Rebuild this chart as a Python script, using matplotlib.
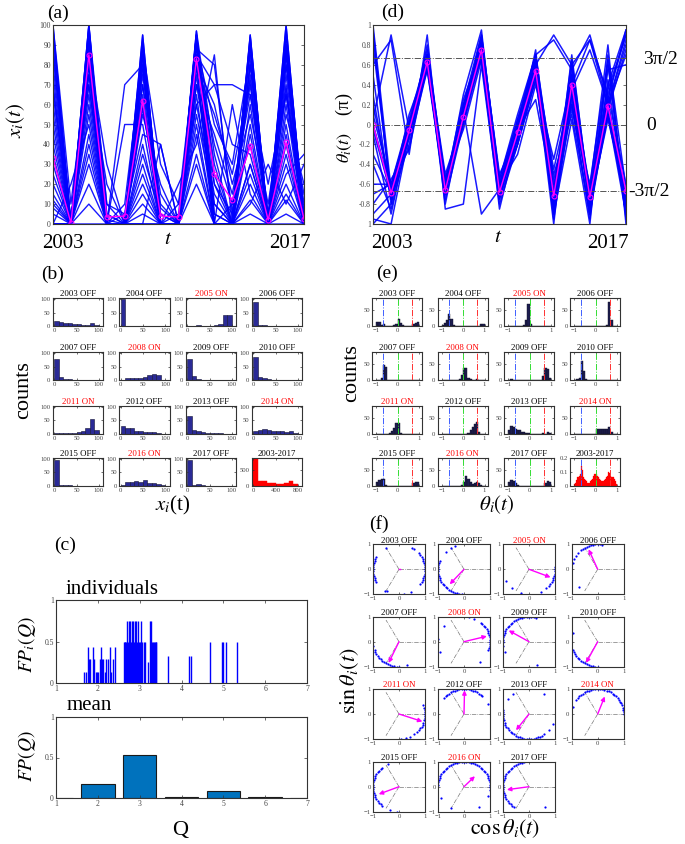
import numpy as np
import matplotlib
matplotlib.use('Agg')
import matplotlib.pyplot as plt

plt.rcParams['font.family'] = ['Liberation Serif', 'DejaVu Serif']
plt.rcParams['mathtext.fontset'] = 'stix'

# ---------------- data ----------------
years = [2003, 2004, 2005, 2006, 2007, 2008, 2009, 2010, 2011, 2012, 2013, 2014, 2015, 2016, 2017]
phase = ['OFF', 'OFF', 'ON', 'OFF', 'OFF', 'ON', 'OFF', 'OFF', 'ON', 'OFF', 'OFF', 'ON', 'OFF', 'ON', 'OFF']

# (a) individual trajectories x_i(t) and mean
x_mean = [33, 0.5, 85, 3.5, 4, 62, 4, 3.5, 83, 25, 12, 39, 2, 41, 2.5]
x_indiv = [
    [100, 0, 100, 0, 0, 95, 0, 0, 97, 10, 0, 95, 0, 100, 0],
    [90, 0, 95, 5, 0, 90, 5, 0, 95, 20, 5, 90, 0, 95, 5],
    [85, 0, 90, 0, 10, 85, 0, 0, 90, 30, 0, 80, 5, 90, 0],
    [80, 0, 95, 10, 0, 80, 0, 10, 90, 0, 0, 75, 0, 85, 0],
    [70, 0, 90, 0, 0, 75, 10, 0, 85, 40, 10, 70, 0, 80, 10],
    [60, 0, 85, 0, 5, 70, 0, 0, 80, 0, 0, 60, 0, 75, 0],
    [50, 0, 80, 0, 0, 65, 0, 5, 80, 60, 20, 55, 10, 70, 0],
    [40, 0, 75, 20, 0, 60, 0, 0, 75, 0, 0, 50, 0, 60, 0],
    [30, 0, 70, 0, 0, 55, 20, 0, 70, 20, 0, 45, 0, 55, 20],
    [20, 0, 65, 0, 50, 50, 0, 0, 65, 0, 10, 40, 0, 50, 0],
    [10, 0, 60, 0, 0, 40, 0, 0, 60, 70, 40, 35, 0, 45, 0],
    [0, 0, 55, 0, 0, 30, 0, 0, 55, 10, 0, 30, 0, 40, 0],
    [0, 20, 50, 0, 0, 20, 0, 0, 50, 0, 0, 25, 0, 35, 0],
    [5, 0, 40, 0, 0, 10, 0, 20, 40, 85, 0, 20, 0, 30, 0],
    [0, 0, 30, 0, 0, 0, 40, 0, 30, 0, 60, 15, 0, 20, 0],
    [0, 0, 20, 0, 0, 0, 0, 0, 20, 0, 0, 10, 30, 10, 30],
    [0, 0, 10, 0, 0, 90, 0, 0, 95, 5, 0, 95, 0, 100, 0],
    [95, 0, 100, 0, 0, 95, 0, 0, 95, 0, 0, 90, 0, 95, 0],
    [15, 0, 0, 0, 0, 0, 0, 0, 0, 0, 0, 0, 0, 0, 0],
    [100, 10, 85, 30, 0, 85, 0, 0, 90, 50, 30, 85, 0, 90, 5],
    [0, 0, 75, 0, 70, 80, 0, 0, 85, 70, 70, 65, 20, 65, 0],
    [35, 0, 95, 0, 0, 35, 5, 0, 90, 5, 0, 5, 0, 25, 35],
    [25, 0, 100, 10, 5, 45, 40, 0, 95, 25, 0, 80, 0, 90, 0],
    [65, 0, 80, 0, 0, 88, 30, 10, 60, 15, 0, 88, 0, 80, 0],
    [45, 0, 95, 0, 0, 15, 0, 0, 80, 0, 0, 0, 0, 5, 0],
    [75, 0, 88, 0, 0, 92, 0, 0, 88, 80, 5, 92, 0, 85, 0],
    [55, 0, 70, 5, 0, 70, 15, 0, 70, 45, 15, 65, 5, 65, 15],
    [98, 0, 92, 0, 0, 78, 0, 0, 93, 0, 0, 82, 0, 88, 0],
    [88, 0, 98, 0, 0, 83, 0, 0, 97, 35, 0, 94, 0, 97, 0],
    [12, 0, 45, 0, 0, 25, 0, 0, 45, 0, 0, 12, 0, 15, 0],
    [68, 0, 82, 2, 0, 58, 8, 0, 78, 55, 25, 72, 0, 68, 0],
    [8, 0, 35, 0, 0, 5, 0, 0, 35, 0, 0, 30, 0, 12, 0],
]

# (d) individual phases theta_i(t) (units of pi) and mean
th_mean = [0, -0.69, -0.06, 0.63, -0.66, 0.08, 0.75, -0.68, -0.08, 0.54, -0.72, 0.40, -0.73, 0.19, -0.67]
th_indiv = [
    [-0.9, -0.7, -0.05, 0.65, -0.6, 0.05, 0.75, -0.65, -0.05, 0.6, -0.85, 0.4, -0.8, 0.15, -0.85],
    [0.0, -0.65, -0.1, 0.6, -0.55, 0.1, 0.8, -0.6, 0.0, 0.55, -0.9, 0.3, -0.75, 0.2, 0.85],
    [0.9, -0.75, -0.05, 0.7, -0.65, 0.15, 0.85, -0.7, -0.1, 0.65, -0.75, 0.5, -0.85, 0.1, -0.9],
    [-1.0, -0.8, 0.0, 0.65, -0.6, 0.0, 0.7, -0.65, -0.15, 0.5, -1.0, 0.6, 0.85, 0.3, 0.9],
    [0.1, -0.6, -0.15, 0.6, -0.7, 0.2, 0.9, -0.55, 0.05, 0.7, -0.6, 0.2, -0.7, 0.6, -0.8],
    [-0.1, -0.9, -0.05, 0.75, -0.6, 0.05, 0.75, -0.65, -0.2, 0.45, -0.5, 0.1, -0.9, 0.15, 0.75],
    [0.8, -0.7, 0.0, 0.65, -0.8, 0.1, 0.8, -0.75, -0.05, 0.6, -0.85, 0.7, -0.8, 0.05, -0.7],
    [-0.8, -0.55, -0.25, 0.6, -0.55, -0.05, 0.65, -0.6, -0.3, 0.4, -0.35, 0.45, -0.65, 0.8, -1.0],
    [0.05, 0.9, -0.05, 0.65, -0.65, 0.3, 0.95, -0.65, 0.0, 0.7, 0.85, 0.55, 0.9, 0.25, 0.95],
    [1.0, -0.65, -0.1, 0.8, -0.6, 0.1, 0.7, -0.85, -0.1, 0.65, -0.95, 0.25, -0.95, 0.45, -0.85],
    [-0.05, -0.7, 0.1, 0.6, -0.65, 0.15, -0.9, -0.65, -0.05, 0.25, -0.7, 0.65, -0.75, 0.1, -0.75],
    [0.95, -0.75, -0.05, 0.7, -0.5, 0.05, 0.8, -0.6, 0.05, 0.6, -0.45, 0.35, 0.75, 0.2, 0.8],
    [-0.95, -1.0, -0.1, 0.55, -0.6, 0.25, 0.75, -0.7, -0.15, 0.55, -0.8, 0.15, -0.6, 0.65, -0.95],
    [0.2, -0.65, -0.05, 0.65, -0.7, 0.1, 0.85, -0.5, -0.1, 0.75, -0.9, 0.5, -0.85, 0.35, 0.9],
    [-0.7, -0.6, 0.0, 0.7, -0.65, 0.05, 0.75, -0.65, -0.05, 0.6, 0.9, 0.6, -0.8, 0.1, -0.8],
    [0.6, 0.85, -0.3, 0.9, -0.85, -0.8, 0.6, -0.8, -0.2, 0.5, -0.9, 0.05, -1.0, 0.7, -0.65],
    [0.0, -0.7, -0.05, 0.6, -0.6, 0.1, 0.7, -0.7, 0.0, 0.65, -0.65, 0.4, 0.85, 0.2, 0.7],
    [-0.4, -0.85, -0.1, 0.65, -0.75, 0.0, 0.8, -0.6, -0.05, 0.6, -0.75, 0.3, -0.7, 0.25, -0.9],
    [0.3, -0.75, -0.2, 0.55, -0.7, 0.2, 0.65, -0.75, -0.2, 0.45, -0.8, 0.55, -0.75, 0.55, 0.6],
    [-0.6, -0.6, 0.05, 0.7, -0.55, 0.1, 0.9, -0.55, 0.1, 0.7, -0.55, 0.2, -0.9, 0.3, -0.6],
    [0.5, -0.8, 0.02, 0.58, -0.62, 0.12, 0.72, -0.62, -0.02, 0.58, -0.82, 0.45, -0.68, 0.4, 0.95],
    [-0.3, -0.68, -0.08, 0.68, -0.68, 0.18, 0.82, -0.72, -0.12, 0.62, -0.7, 0.35, -0.82, 0.22, -0.75],
]

# (b) histograms of x_i(t): 10 bins on [0,100]
x_bin_edges = [0, 10, 20, 30, 40, 50, 60, 70, 80, 90, 100]
x_counts = [
    [20, 15, 10, 12, 8, 8, 2, 4, 10, 3],
    [102, 0, 0, 0, 0, 0, 0, 0, 0, 0],
    [0, 1, 2, 1, 1, 1, 2, 6, 40, 40],
    [90, 5, 2, 1, 0, 0, 0, 0, 0, 0],
    [80, 13, 5, 5, 1, 0, 0, 0, 0, 0],
    [0, 7, 7, 6, 8, 12, 18, 24, 18, 0],
    [80, 15, 5, 1, 0, 0, 0, 0, 0, 0],
    [85, 10, 8, 3, 1, 0, 0, 0, 0, 0],
    [1, 1, 2, 1, 3, 4, 10, 20, 55, 14],
    [27, 22, 21, 8, 11, 7, 6, 4, 2, 0],
    [65, 15, 8, 6, 3, 2, 1, 1, 0, 0],
    [9, 15, 18, 14, 9, 9, 11, 6, 11, 3],
    [96, 3, 2, 1, 0, 0, 0, 0, 0, 0],
    [3, 14, 15, 17, 13, 20, 9, 8, 6, 2],
    [95, 3, 6, 1, 0, 0, 0, 0, 0, 0],
]
x_total_edges = [0, 80, 160, 240, 320, 400, 480, 560, 640, 720, 800]
x_total_counts = [860, 140, 135, 80, 70, 60, 60, 70, 130, 60]

# (e) histograms of theta_i(t): 20 bins on [-1,1]
th_bin_edges = [-1.0, -0.9, -0.8, -0.7, -0.6, -0.5, -0.4, -0.3, -0.2, -0.1, 0.0,
                0.1, 0.2, 0.3, 0.4, 0.5, 0.6, 0.7, 0.8, 0.9, 1.0]
th_counts = [
    [12, 12, 3, 5, 0, 0, 0, 0, 2, 8, 22, 10, 2, 0, 0, 0, 1, 8, 10, 12],
    [4, 10, 20, 38, 22, 2, 0, 0, 0, 0, 0, 0, 0, 0, 0, 0, 0, 1, 7, 5],
    [0, 0, 0, 0, 0, 0, 0, 3, 18, 70, 5, 0, 0, 0, 0, 0, 0, 0, 0, 0],
    [0, 0, 0, 0, 0, 0, 0, 0, 0, 0, 0, 0, 0, 0, 0, 3, 78, 18, 1, 0],
    [0, 1, 5, 48, 42, 1, 0, 0, 0, 0, 0, 0, 0, 0, 0, 0, 0, 0, 0, 0],
    [0, 0, 0, 0, 0, 0, 0, 0, 3, 15, 38, 40, 6, 2, 0, 0, 3, 0, 0, 0],
    [0, 2, 0, 0, 0, 0, 0, 0, 0, 0, 0, 0, 0, 0, 0, 1, 12, 38, 35, 5],
    [0, 2, 8, 62, 30, 2, 0, 0, 0, 0, 0, 0, 0, 0, 0, 0, 0, 0, 0, 0],
    [0, 0, 0, 0, 0, 0, 2, 8, 18, 33, 35, 2, 0, 0, 0, 0, 0, 0, 0, 0],
    [0, 0, 0, 0, 0, 0, 0, 0, 0, 0, 0, 0, 3, 10, 20, 32, 38, 5, 0, 0],
    [10, 25, 20, 15, 12, 10, 6, 4, 2, 1, 0, 0, 0, 0, 0, 0, 2, 0, 6, 2],
    [0, 0, 0, 0, 0, 0, 0, 0, 0, 0, 15, 15, 14, 15, 14, 16, 20, 5, 0, 0],
    [10, 18, 22, 20, 3, 0, 0, 0, 0, 0, 0, 0, 0, 0, 0, 0, 0, 8, 12, 10],
    [0, 0, 0, 0, 0, 0, 0, 0, 0, 2, 10, 30, 20, 12, 5, 8, 10, 8, 3, 0],
    [10, 18, 15, 8, 3, 0, 0, 0, 0, 0, 0, 0, 0, 0, 0, 0, 0, 8, 15, 10],
]
th_total_centers = [-0.975, -0.925, -0.875, -0.825, -0.775, -0.725, -0.675, -0.625, -0.575, -0.525,
                    -0.475, -0.425, -0.375, -0.325, -0.275, -0.225, -0.175, -0.125, -0.075, -0.025,
                    0.025, 0.075, 0.125, 0.175, 0.225, 0.275, 0.325, 0.375, 0.425, 0.475,
                    0.525, 0.575, 0.625, 0.675, 0.725, 0.775, 0.825, 0.875, 0.925, 0.975]
th_total_freq = [0.01, 0.02, 0.04, 0.06, 0.07, 0.08, 0.14, 0.11, 0.06, 0.05,
                 0.04, 0.03, 0.02, 0.02, 0.02, 0.03, 0.04, 0.05, 0.07, 0.08,
                 0.08, 0.07, 0.06, 0.05, 0.04, 0.03, 0.03, 0.03, 0.04, 0.05,
                 0.06, 0.07, 0.10, 0.09, 0.07, 0.06, 0.06, 0.05, 0.03, 0.01]

# (c) first-passage statistics
indiv_Q = [1.66, 1.72, 1.77, 1.79, 1.81, 1.89, 1.92, 1.95, 1.98, 2.01, 2.04, 2.07, 2.10, 2.13, 2.16,
           2.20, 2.24, 2.28, 2.31, 2.36, 2.40,
           2.62, 2.64, 2.66, 2.68, 2.70, 2.72, 2.74, 2.76, 2.78, 2.80, 2.82, 2.84, 2.86, 2.88, 2.90,
           2.92, 2.94, 2.96, 2.98, 3.00, 3.02, 3.04, 3.06, 3.10, 3.13, 3.20, 3.25, 3.28, 3.30, 3.32,
           3.34, 3.36, 3.38, 3.40,
           3.68, 4.19, 4.22, 4.69, 4.97, 5.00, 5.06, 5.33]
indiv_FP = [0.14, 0.14, 0.43, 0.29, 0.29, 0.43, 0.29, 0.14, 0.14, 0.14, 0.29, 0.43, 0.29, 0.29, 0.14,
            0.29, 0.29, 0.43, 0.14, 0.29, 0.43,
            0.5, 0.5, 0.5, 0.5, 0.75, 0.5, 0.75, 0.5, 0.75, 0.5, 0.75, 0.75, 0.5, 0.75, 0.5,
            0.75, 0.5, 0.75, 0.5, 0.5, 0.75, 0.5, 0.5, 0.5, 0.5, 0.25, 0.75, 0.75, 0.5, 0.5,
            0.5, 0.5, 0.5, 0.5,
            0.33, 0.33, 0.33, 0.5, 0.5, 0.5, 0.5, 0.5]
mean_Q = [1, 2, 3, 4, 5, 6, 7]
mean_FP = [0.004, 0.18, 0.535, 0.02, 0.085, 0.015, 0.004]

# (f) phases on the unit circle (degrees) and mean vectors
f_deg = [
    [150, 155, 160, 165, 170, 175, 180, 185, 190, 195, 200, 205, 210, -35, -30, -25, -20, -15, -10, -5,
     0, 5, 10, 15, 20, 25, 30, 35, 40, 120, 55, 60, -122, -118, -78, -63],
    [-95, -100, -105, -110, -115, -120, -125, -130, -135, -140, -145, -150, -155, -160, -165, -170,
     -175, 180, 175, 170, 165, 160, 135, 120, 110],
    [5, 0, -5, -10, -15, -20, -25, -30, -35, -41, -49, -63, -108, -130, -153],
    [80, 85, 90, 95, 100, 105, 110, 115, 120, 125, 130, 140, 148, 155, 165, -135],
    [-90, -95, -100, -105, -110, -115, -120, -125, -130, -135, -140, -145, -150, -155, -160, -170, -72],
    [-20, -15, -10, -5, 0, 5, 10, 15, 20, 25, 30, 35, 40, 45, 50, 67, 78, 140, 174, -156, -53],
    [75, 80, 85, 90, 95, 100, 105, 110, 115, 120, 125, 130, 135, 140, 145, 150, 155, 160, 165, 170,
     175, 180, -170, -156, -72],
    [-90, -95, -100, -105, -110, -115, -120, -125, -130, -135, -140, -145, -150, -155, -160, 160],
    [20, 15, 10, 5, 0, -5, -10, -15, -20, -25, -30, -35, -40, -45, -55, -65, -75, -85],
    [45, 50, 55, 60, 65, 70, 75, 80, 85, 90, 95, 100, 105, 110, 115, 120, 125, 130, 135, 140, 24],
    [170, 175, 180, -175, -170, -165, -160, -155, -150, -145, -140, -135, -130, -125, -120, -115, -110,
     -105, -100, -95, -90, -85, -80, -75, -70, -65, -60, -55, 143, 127, 55, -24, -40],
    [0, 5, 10, 15, 20, 25, 30, 35, 40, 45, 50, 55, 60, 65, 70, 75, 80, 85, 90, 95, 100, 105, 110, 115,
     120, 125, 130, 135, 140, 145, 163],
    [130, 135, 140, 145, 150, 155, 160, 165, 170, 175, 180, -175, -170, -165, -160, -155, -150, -145,
     -140, -135, -130, 114, -110, -95],
    [0, 5, 10, 15, 20, 25, 30, 35, 40, 45, 50, 55, 60, 65, 70, 75, 80, 85, 90, 95, 100, 105, 110, 115,
     120, 125, 130, 135, 140, 145, 150, 155, 160, 165, 170, 175, -153, -120, -55, -23, -8],
    [100, 105, 110, 115, 120, 125, 130, 135, 140, 145, 150, 155, 160, 165, 170, 175, 180, -175, -170,
     -165, -160, -155, -150, -145, -140, -135, -130, -125, -53],
]
arrow_x = [0.03, -0.55, 0.83, -0.35, -0.40, 0.88, -0.78, -0.45, 0.90, 0.02, -0.50, 0.27, -0.78, 0.42, -0.85]
arrow_y = [0.0, -0.60, -0.32, 0.80, -0.85, 0.22, 0.45, -0.85, -0.30, 0.95, -0.65, 0.70, -0.30, 0.42, -0.12]

# ---------------- figure ----------------
W, H = 685, 844
fig = plt.figure(figsize=(W / 100, H / 100), dpi=100)
fig.patch.set_facecolor('white')

BLUE = '#0000ff'
MAG = '#ff00ff'
TICKC = '#444444'


def px_axes(l, t, r, b):
    return fig.add_axes([l / W, 1 - b / H, (r - l) / W, (b - t) / H])


def ftext(x, y, s, **kw):
    kw.setdefault('ha', 'center')
    kw.setdefault('va', 'center')
    fig.text(x / W, 1 - y / H, s, **kw)


def style(ax, fs=5, tl=2):
    for sp in ax.spines.values():
        sp.set_color('#333333')
        sp.set_linewidth(0.8)
    ax.tick_params(direction='in', length=tl, width=0.5, labelsize=fs, colors='#333333',
                   labelcolor=TICKC, top=True, right=True, pad=1.5)


# ---- (a) ----
axa = px_axes(53, 25, 304, 224)
for tr in x_indiv:
    axa.plot(years, tr, color=BLUE, lw=1.0, alpha=0.9)
axa.plot(years, x_mean, color=MAG, lw=1.0, marker='o', ms=3.5, mfc='none', mec=MAG, mew=0.8)
axa.set_xlim(2003, 2017)
axa.set_ylim(0, 100)
axa.set_yticks(list(range(0, 101, 10)))
axa.set_xticks([])
style(axa, fs=5.5)
ftext(58, 13, '(a)', fontsize=14)
ftext(63, 243, '2003', fontsize=15)
ftext(168, 240, '$t$', fontsize=15)
ftext(290, 243, '2017', fontsize=15)
ftext(16, 120, '$x_i(t)$', fontsize=15, rotation=90)

# ---- (d) ----
axd = px_axes(373, 25, 626, 224)
for tr in th_indiv:
    axd.plot(years, tr, color=BLUE, lw=1.1, alpha=0.9)
for yv in (2 / 3, 0, -2 / 3):
    axd.axhline(yv, color='#555555', lw=0.7, ls='-.')
axd.plot(years, th_mean, color=MAG, lw=1.0, marker='o', ms=3.5, mfc='none', mec=MAG, mew=0.8)
axd.set_xlim(2003, 2017)
axd.set_ylim(-1, 1)
yt = [-1, -0.8, -0.6, -0.4, -0.2, 0, 0.2, 0.4, 0.6, 0.8, 1]
axd.set_yticks(yt)
axd.set_yticklabels(['1', '-0.8', '-0.6', '-0.4', '-0.2', '0', '0.2', '0.4', '0.6', '0.8', '1'])
axd.set_xticks([])
style(axd, fs=5.5)
ftext(393, 12, '(d)', fontsize=14)
ftext(392, 243, '2003', fontsize=15)
ftext(498, 238, '$t$', fontsize=15)
ftext(608, 243, '2017', fontsize=15)
ftext(344, 128, r'$\theta_i(t)$    (π)', fontsize=13, rotation=90)
ftext(643, 60, '3π/2', fontsize=14, ha='left')
ftext(646, 125, '0', fontsize=14, ha='left')
ftext(628, 192, '-3π/2', fontsize=14, ha='left')

# ---- (b) and (e) grids ----
cols_b = [52.7, 119.0, 185.7, 251.7]
cols_e = [372.0, 437.7, 504.0, 570.0]
rows_be = [298.0, 352.0, 405.5, 457.5]
BW, BH = 50.5, 28.0
NAVY_B = '#2a2a96'
NAVY_E = '#1c1c50'
LBLUE = '#3f5fff'
LGREEN = '#33dd33'
LRED = '#ff3030'

xc = [(x_bin_edges[i] + x_bin_edges[i + 1]) / 2 for i in range(len(x_bin_edges) - 1)]
xwid = x_bin_edges[1] - x_bin_edges[0]
tc = [(th_bin_edges[i] + th_bin_edges[i + 1]) / 2 for i in range(len(th_bin_edges) - 1)]
twid = th_bin_edges[1] - th_bin_edges[0]
xtc = [(x_total_edges[i] + x_total_edges[i + 1]) / 2 for i in range(len(x_total_edges) - 1)]
xtw = x_total_edges[1] - x_total_edges[0]

for k in range(16):
    r, c = divmod(k, 4)
    axb = px_axes(cols_b[c], rows_be[r], cols_b[c] + BW, rows_be[r] + BH)
    axe = px_axes(cols_e[c], rows_be[r], cols_e[c] + BW - 0.5, rows_be[r] + BH)
    if k < 15:
        title = f'{years[k]} {phase[k]}'
        tcol = 'red' if phase[k] == 'ON' else 'black'
        axb.bar(xc, x_counts[k], width=xwid, color=NAVY_B, edgecolor='#111133', lw=0.4)
        axb.set_xlim(-4, 110)
        axb.set_ylim(0, 105)
        axb.set_xticks([0, 50, 100])
        axb.set_yticks([0, 50, 100])
        axe.bar(tc, th_counts[k], width=twid, color=NAVY_E, edgecolor='#111122', lw=0.3)
        axe.set_ylim(0, 90)
        axe.set_yticks([0, 50])
    else:
        title = '2003-2017'
        tcol = 'black'
        axb.bar(xtc, x_total_counts, width=xtw, color='red', edgecolor='red', lw=0.3)
        axb.set_xlim(-30, 880)
        axb.set_ylim(0, 880)
        axb.set_xticks([0, 400, 800])
        axb.set_yticks([0, 500])
        axe.bar(th_total_centers, th_total_freq, width=0.05, color='red', edgecolor='red', lw=0.2)
        axe.set_ylim(0, 0.2)
        axe.set_yticks([0, 0.1, 0.2])
        axe.set_yticklabels(['0', '0.1', '0.2'])
    for xv, cc in ((-2 / 3, LBLUE), (0, LGREEN), (2 / 3, LRED)):
        axe.axvline(xv, color=cc, lw=0.7, ls='-.')
    axe.set_xlim(-1.2, 1.15)
    axe.set_xticks([-1, 0, 1])
    for ax in (axb, axe):
        style(ax, fs=4.8, tl=1.5)
        ax.set_title(title, fontsize=6.3, color=tcol, pad=1.2)

ftext(53, 274, '(b)', fontsize=14)
ftext(387, 273, '(e)', fontsize=14)
ftext(24, 390, 'counts', fontsize=16, rotation=90)
ftext(352, 373, 'counts', fontsize=16, rotation=90)
ftext(173, 505, '$x_i$(t)', fontsize=15)
ftext(497, 505, r'$\theta_i(t)$', fontsize=15)

# ---- (c) ----
axc1 = px_axes(56, 600, 307, 683.3)
axc1.vlines(indiv_Q, 0, indiv_FP, color=BLUE, lw=1.0)
axc1.set_xlim(1, 7)
axc1.set_ylim(0, 1)
axc1.set_xticks([1, 2, 3, 4, 5, 6, 7])
axc1.set_yticks([0, 0.5, 1])
axc1.set_yticklabels(['0', '0.5', '1'])
style(axc1, fs=5.5)

axc2 = px_axes(56, 716.7, 307, 798.3)
axc2.bar(mean_Q, mean_FP, width=0.8, color='#0072BD', edgecolor='#1a1a1a', lw=0.8)
axc2.set_xlim(1, 7)
axc2.set_ylim(0, 1)
axc2.set_xticks([1, 2, 3, 4, 5, 6, 7])
axc2.set_yticks([0, 0.5, 1])
axc2.set_yticklabels(['0', '0.5', '1'])
style(axc2, fs=5.5)

ftext(65, 545, '(c)', fontsize=14)
ftext(112, 590, 'individuals', fontsize=15)
ftext(89, 706, 'mean', fontsize=15)
ftext(27, 645, '$FP_i(Q)$', fontsize=14, rotation=90)
ftext(27, 756, '$FP(Q)$', fontsize=14, rotation=90)
ftext(180, 830, 'Q', fontsize=16)

# ---- (f) ----
cols_f = [373.0, 438.0, 503.0, 571.7]
rows_f = [544.3, 616.7, 689.0, 761.7]
FW, FH = 52.0, 50.0
for k in range(15):
    r, c = divmod(k, 4)
    ax = px_axes(cols_f[c], rows_f[r], cols_f[c] + FW, rows_f[r] + FH)
    for ang in (0, 120, 240):
        ax.plot([0, np.cos(np.radians(ang))], [0, np.sin(np.radians(ang))],
                color='#777777', lw=0.5, ls='-.')
    a = np.radians(np.array(f_deg[k], dtype=float))
    ax.plot(np.cos(a), np.sin(a), 'o', color=BLUE, ms=1.6, mew=0)
    ln = np.hypot(arrow_x[k], arrow_y[k])
    if ln > 0.1:
        ax.annotate('', xy=(arrow_x[k], arrow_y[k]), xytext=(0, 0),
                    arrowprops=dict(arrowstyle='-|>', color=MAG, lw=1.0, mutation_scale=6,
                                    shrinkA=0, shrinkB=0))
    else:
        ax.plot([0, arrow_x[k]], [0, arrow_y[k]], color=MAG, lw=1.0)
    ax.set_xlim(-1, 1)
    ax.set_ylim(-1, 1)
    ax.set_xticks([-1, 0, 1])
    ax.set_yticks([-1, 0, 1])
    style(ax, fs=4.8, tl=1.5)
    tcol = 'red' if phase[k] == 'ON' else 'black'
    ax.set_title(f'{years[k]} {phase[k]}', fontsize=6.3, color=tcol, pad=1.2)

ftext(379, 524, '(f)', fontsize=14)
ftext(350, 681, r'$\sin\theta_i(t)$', fontsize=16, rotation=90)
ftext(505, 829, r'$\cos\theta_i(t)$', fontsize=16)

fig.savefig('out.png', dpi=100, facecolor='white')
